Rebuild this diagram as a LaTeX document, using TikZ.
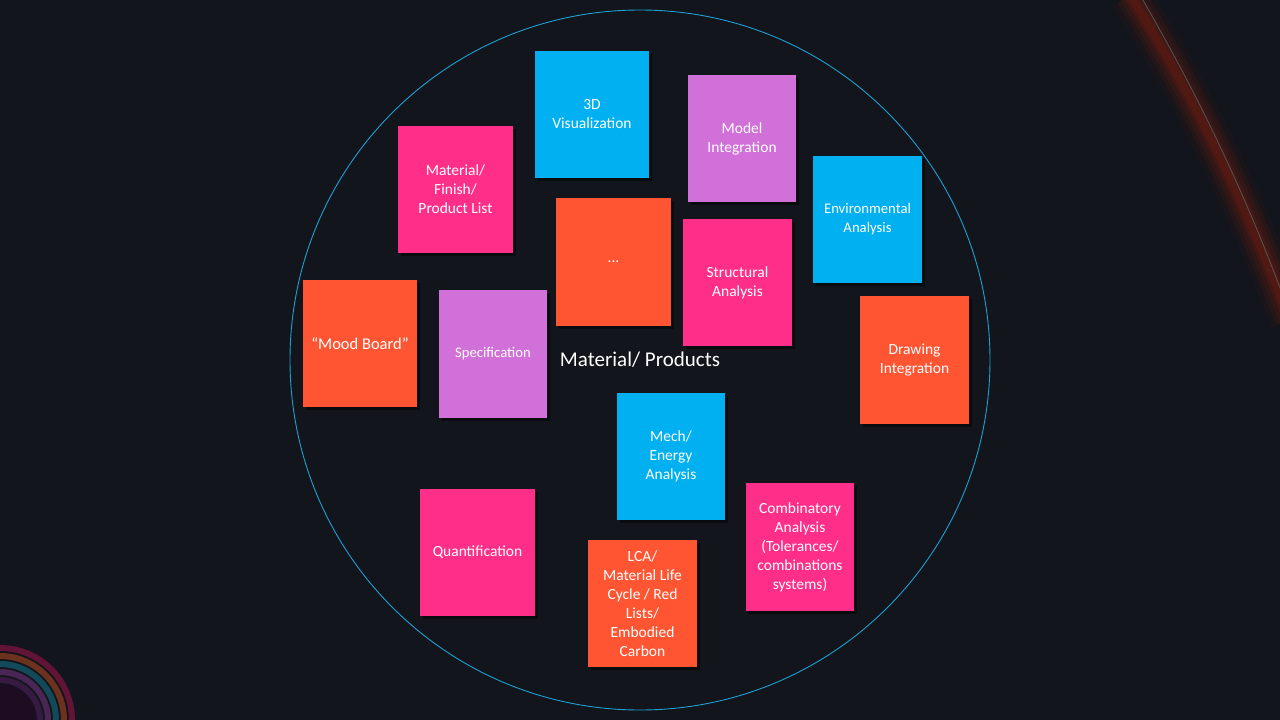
\documentclass[tikz,border=0pt]{standalone}
\usepackage{fontspec}
\setmainfont{Carlito}
\definecolor{bg}{RGB}{18,21,28}
\definecolor{cblue}{RGB}{0,176,240}
\definecolor{cpurple}{RGB}{208,112,216}
\definecolor{cpink}{RGB}{255,46,136}
\definecolor{corange}{RGB}{255,85,50}
\definecolor{ring}{RGB}{30,160,210}
\definecolor{glow}{RGB}{120,30,15}
\definecolor{rA}{RGB}{150,20,70}
\definecolor{rB}{RGB}{170,70,30}
\definecolor{rC}{RGB}{20,110,130}
\definecolor{rD}{RGB}{110,50,120}
\definecolor{rE}{RGB}{80,30,90}
\definecolor{rF}{RGB}{30,12,35}
\newcommand{\cardbox}[8]{%
  \fill[black, opacity=0.45] (#2+3,#3+3) rectangle (#4+3,#5+3);
  \fill[#6] (#2,#3) rectangle (#4,#5);
  \node[text=white, align=center, font=\fontsize{#8}{19}\selectfont] (#1) at ({(#2+#4)/2},{(#3+#5)/2}) {#7};
}
\begin{document}
\begin{tikzpicture}[x=1pt,y=-1pt]
\fill[bg] (0,0) rectangle (1280,720);
\useasboundingbox (0,0) rectangle (1280,720);
\begin{scope}
\clip (0,0) rectangle (1280,720);
\foreach \w/\o in {40/0.08,30/0.12,22/0.16,14/0.22,8/0.3}{
  \draw[glow, line width=\w pt, opacity=\o] (1130,-5) .. controls (1190,90) and (1240,190) .. (1290,320);
}
\draw[gray!60!bg, line width=0.8pt] (1140,-5) .. controls (1195,90) and (1245,190) .. (1290,315);
\foreach \r/\c in {72/rA,64/rB,56/rC,48/rD,40/rE}{
  \draw[\c, line width=6pt, opacity=0.6] (0,720) circle (\r);
}
\fill[rF] (0,720) circle (36);
\end{scope}
\node[draw=ring, line width=0.9pt, circle, minimum size=700pt, inner sep=0pt] (ringc) at (640,360) {};
\cardbox{viz}{535}{51}{649}{178}{cblue}{3D\\Visualization}{15.5}
\cardbox{model}{688}{75}{796}{202}{cpurple}{Model\\Integration}{15.5}
\cardbox{mfpl}{398}{126}{513}{253}{cpink}{Material/\\Finish/\\Product List}{15.5}
\cardbox{env}{813}{156}{922}{283}{cblue}{Environmental\\Analysis}{14.7}
\cardbox{dots}{556}{198}{671}{326}{corange}{...}{15.5}
\cardbox{struct}{683}{219}{792}{346}{cpink}{Structural\\Analysis}{15.5}
\cardbox{mood}{303}{280}{417}{407}{corange}{“Mood Board”}{16.5}
\cardbox{spec}{439}{290}{547}{418}{cpurple}{Specification}{14.7}
\cardbox{draw}{860}{296}{969}{424}{corange}{Drawing\\Integration}{15.5}
\cardbox{mech}{617}{393}{725}{520}{cblue}{Mech/\\Energy\\Analysis}{15.5}
\cardbox{quant}{420}{489}{535}{616}{cpink}{Quantification}{15.5}
\cardbox{comb}{746}{483}{854}{611}{cpink}{Combinatory\\Analysis\\(Tolerances/\\combinations\\systems)}{15.5}
\cardbox{lca}{588}{540}{697}{667}{corange}{LCA/\\Material Life\\Cycle / Red\\Lists/\\Embodied\\Carbon}{15.5}
\node[text=white, font=\fontsize{21}{24}\selectfont] (title) at (640,360) {Material/ Products};
\end{tikzpicture}
\end{document}
